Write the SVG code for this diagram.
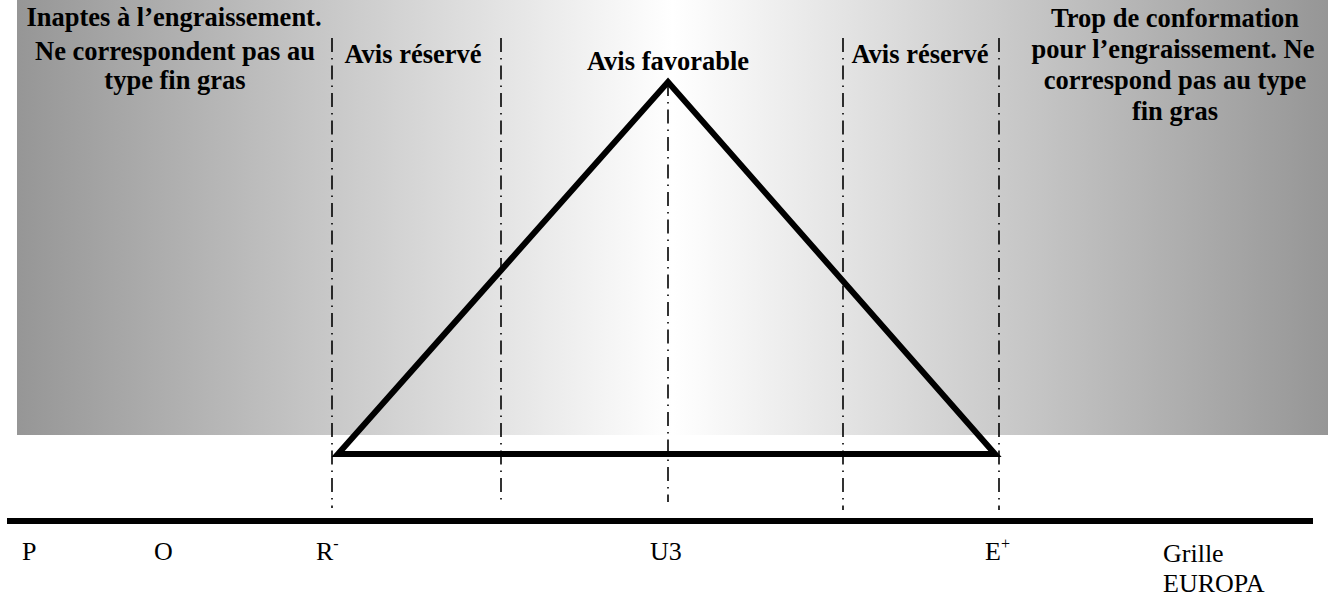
<svg xmlns="http://www.w3.org/2000/svg" width="1334" height="605" viewBox="0 0 1334 605">
<defs>
<linearGradient id="bg" x1="0" y1="0" x2="1" y2="0">
<stop offset="0" stop-color="#969696"/>
<stop offset="0.5" stop-color="#ffffff"/>
<stop offset="1" stop-color="#969696"/>
</linearGradient>
</defs>
<style>
.b{font-family:"Liberation Serif",serif;font-weight:bold;font-size:26.5px}
.r{font-family:"Liberation Serif",serif;font-size:26px}
.dd{stroke:#000;stroke-width:1.6;stroke-dasharray:14 6 1.5 6;fill:none}
.thick{stroke:#000;stroke-width:6;fill:none}
</style>
<rect x="17" y="0" width="1311" height="435" fill="url(#bg)"/>
<g id="connectors">
<line class="dd" x1="332" y1="38" x2="332" y2="508"/>
<line class="dd" x1="501" y1="38" x2="501" y2="505"/>
<line class="dd" x1="668" y1="82" x2="668" y2="502"/>
<line class="dd" x1="843" y1="38" x2="843" y2="510"/>
<line class="dd" x1="999" y1="38" x2="999" y2="510"/>
<polygon id="triangle" class="thick" points="338,454 668,82 995,454"/>
<line class="thick" x1="7" y1="521" x2="1313" y2="521"/>
</g>
<g id="zone-left">
<text class="b" text-anchor="middle" x="174" y="26">Inaptes à l’engraissement.</text>
<text class="b" text-anchor="middle" x="175" y="60">Ne correspondent pas au</text>
<text class="b" text-anchor="middle" x="175" y="89">type fin gras</text>
</g>
<g id="zone-reserve-left"><text class="b" text-anchor="middle" x="413" y="63">Avis réservé</text></g>
<g id="zone-favorable"><text class="b" text-anchor="middle" x="668" y="70">Avis favorable</text></g>
<g id="zone-reserve-right"><text class="b" text-anchor="middle" x="920" y="63">Avis réservé</text></g>
<g id="zone-right">
<text class="b" text-anchor="middle" x="1175" y="27">Trop de conformation</text>
<text class="b" text-anchor="middle" x="1173" y="58">pour l’engraissement. Ne</text>
<text class="b" text-anchor="middle" x="1175" y="89">correspond pas au type</text>
<text class="b" text-anchor="middle" x="1175" y="120">fin gras</text>
</g>
<g id="labels">
<text class="r" x="22" y="560">P</text>
<text class="r" x="154" y="560">O</text>
<text class="r" x="316" y="560">R<tspan font-size="16" dy="-11">-</tspan></text>
<text class="r" x="650" y="560">U3</text>
<text class="r" x="985" y="560">E<tspan font-size="16" dy="-11">+</tspan></text>
<text class="r" x="1163" y="562">Grille</text>
<text class="r" x="1163" y="592">EUROPA</text>
</g>
</svg>
